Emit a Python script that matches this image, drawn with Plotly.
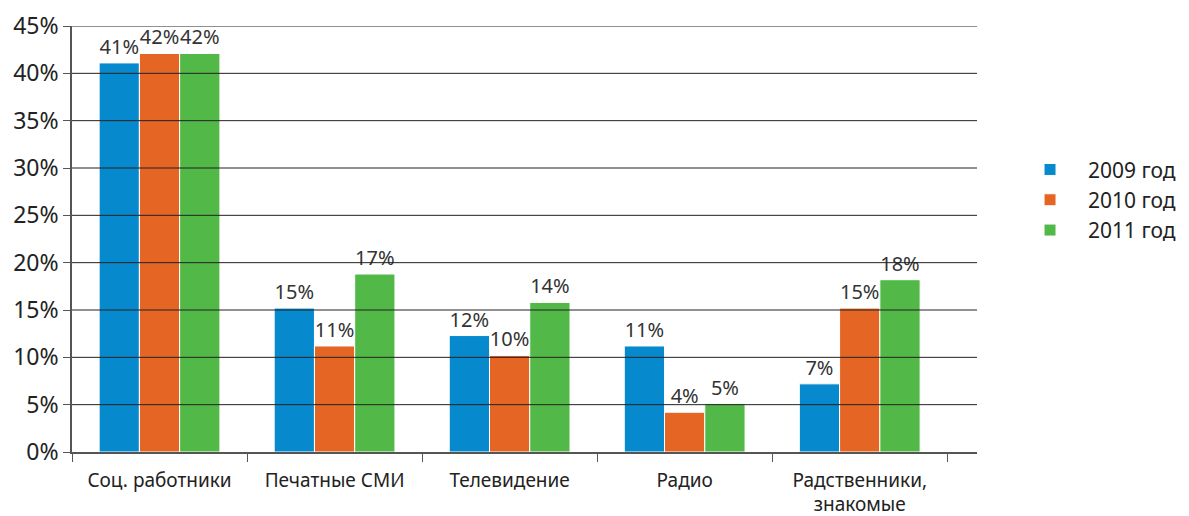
import plotly.graph_objects as go

categories = ["Соц. работники", "Печатные СМИ", "Телевидение", "Радио", "Радственники,<br>знакомые"]
series_names = ["2009 год", "2010 год", "2011 год"]
values_2009 = [41.1, 15.2, 12.3, 11.2, 7.2]
values_2010 = [42.1, 11.2, 10.2, 4.2, 15.2]
values_2011 = [42.1, 18.8, 15.8, 5.1, 18.2]
labels_2009 = ["41%", "15%", "12%", "11%", "7%"]
labels_2010 = ["42%", "11%", "10%", "4%", "15%"]
labels_2011 = ["42%", "17%", "14%", "5%", "18%"]
colors = ["#0689cd", "#e56525", "#52b848"]
tick_vals = [0, 5, 10, 15, 20, 25, 30, 35, 40, 45]
tick_text = ["0%", "5%", "10%", "15%", "20%", "25%", "30%", "35%", "40%", "45%"]

FONT = "Noto Sans"
fig = go.Figure()
for name, vals, labs, col in zip(series_names, [values_2009, values_2010, values_2011],
                                 [labels_2009, labels_2010, labels_2011], colors):
    fig.add_trace(go.Bar(
        x=categories, y=vals, name=name, text=labs, textposition="outside",
        cliponaxis=False, constraintext="none",
        textfont=dict(family=FONT, size=20, color="#333333"),
        marker=dict(color=col, line=dict(color="white", width=1)),
    ))

for v in tick_vals[1:]:
    fig.add_shape(type="line", xref="paper", yref="y", x0=0, x1=1, y0=v, y1=v,
                  line=dict(color="#222222", width=1), layer="above")

fig.update_layout(
    width=1181, height=508,
    margin=dict(l=64, r=212, t=18, b=64, autoexpand=False),
    paper_bgcolor="white", plot_bgcolor="white",
    barmode="group", bargap=0.31, bargroupgap=0.0,
    font=dict(family=FONT, color="#333333"),
    showlegend=True,
    legend=dict(x=1.0387, y=0.592, xanchor="left", yanchor="middle",
                font=dict(family=FONT, size=21, color="#222222"),
                itemwidth=66, tracegroupgap=2),
)
fig.update_yaxes(range=[0, 45], tickvals=tick_vals, ticktext=tick_text,
                 showgrid=False, zeroline=False, automargin=False,
                 showline=True, linecolor="#555555", linewidth=1.5,
                 ticks="outside", ticklen=7, tickcolor="#555555",
                 tickfont=dict(family=FONT, size=23, color="#222222"))
fig.update_xaxes(range=[-0.5, 4.67], showgrid=False, showline=True, automargin=False,
                 linecolor="#555555", linewidth=1.5,
                 ticks="outside", tickson="boundaries", ticklen=8, tickcolor="#555555",
                 ticklabelstandoff=10,
                 tickfont=dict(family=FONT, size=19, color="#222222"))

fig.write_html("out.html")
